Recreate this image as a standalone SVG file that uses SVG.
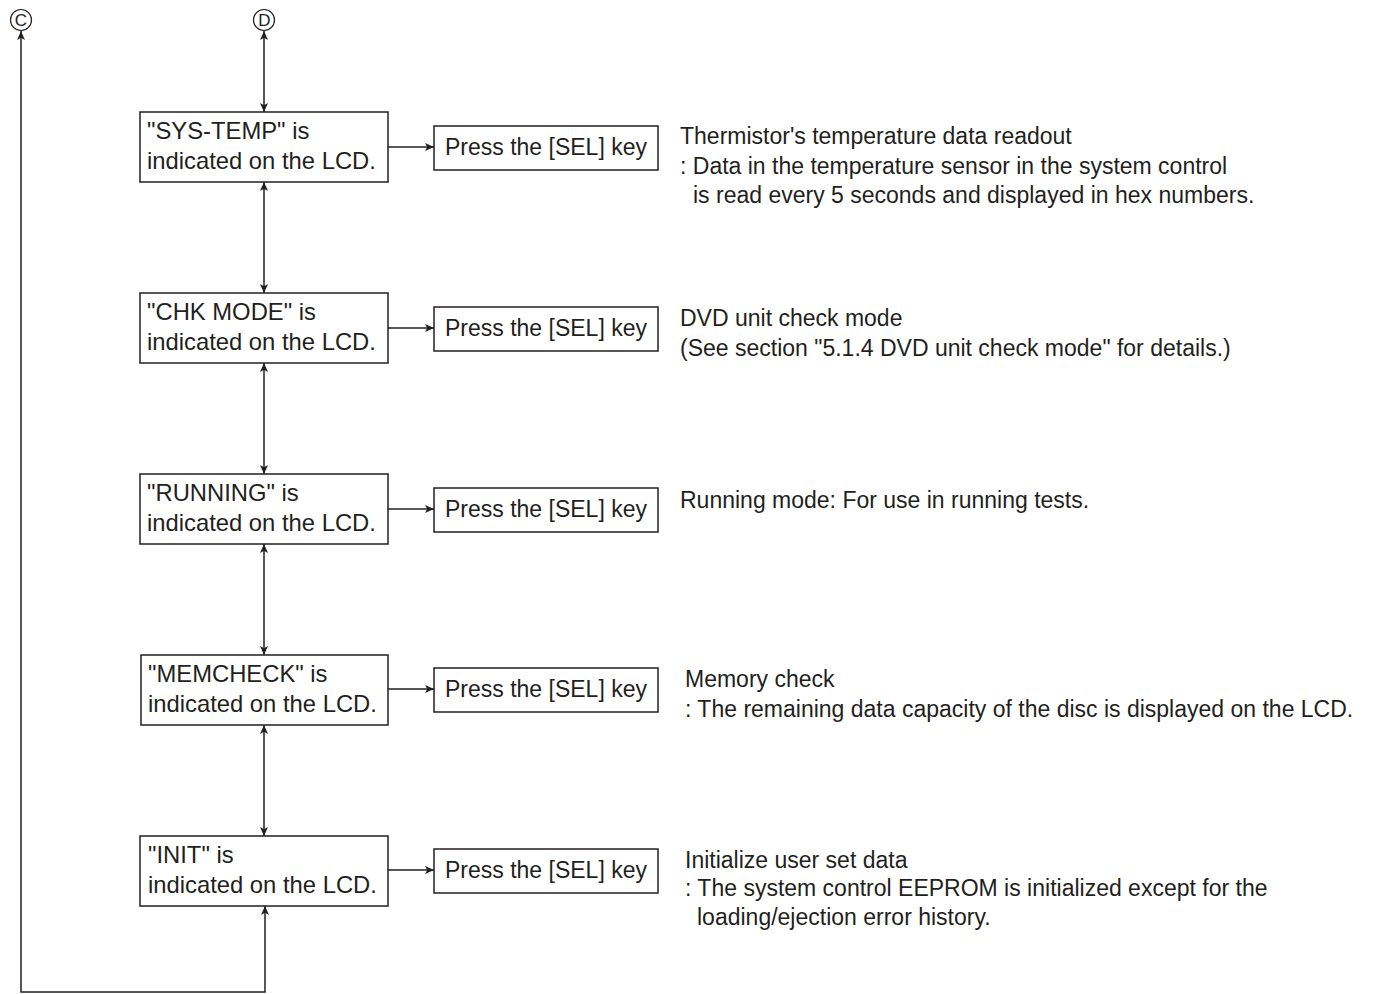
<svg xmlns="http://www.w3.org/2000/svg" width="1378" height="994" viewBox="0 0 1378 994">
<defs>
<marker id="ah" viewBox="0 0 10 10" refX="10" refY="5" markerWidth="9" markerHeight="8" markerUnits="userSpaceOnUse" orient="auto-start-reverse" preserveAspectRatio="none"><path d="M0,0 L10,5 L0,10 L2.5,5 Z" fill="#231f20"/></marker>
</defs>
<style>
.box{fill:#fff;stroke:#231f20;stroke-width:1.5}
.t{font-family:"Liberation Sans",Arial,sans-serif;font-size:23.8px;fill:#231f20}
.p{font-family:"Liberation Sans",Arial,sans-serif;font-size:23px;fill:#231f20}
.d{font-family:"Liberation Sans",Arial,sans-serif;font-size:23px;fill:#231f20}
.c{fill:none;stroke:#231f20;stroke-width:1.5}
.ci{fill:#fff;stroke:#231f20;stroke-width:1.2}
.cl{font-family:"Liberation Sans",Arial,sans-serif;font-size:17px;fill:#231f20;text-anchor:middle}
</style>
<g id="connectors">
<line class="c" x1="264" y1="31" x2="264" y2="112" marker-start="url(#ah)" marker-end="url(#ah)"/>
<line class="c" x1="264" y1="182" x2="264" y2="293" marker-start="url(#ah)" marker-end="url(#ah)"/>
<line class="c" x1="264" y1="363" x2="264" y2="474" marker-start="url(#ah)" marker-end="url(#ah)"/>
<line class="c" x1="264" y1="544" x2="264" y2="655" marker-start="url(#ah)" marker-end="url(#ah)"/>
<line class="c" x1="264" y1="725" x2="264" y2="836" marker-start="url(#ah)" marker-end="url(#ah)"/>
<polyline class="c" points="265,906 265,992 21,992 21,31" marker-start="url(#ah)" marker-end="url(#ah)"/>
<line class="c" x1="388" y1="147" x2="434" y2="147" marker-end="url(#ah)"/>
<line class="c" x1="388" y1="328" x2="434" y2="328" marker-end="url(#ah)"/>
<line class="c" x1="388" y1="509" x2="434" y2="509" marker-end="url(#ah)"/>
<line class="c" x1="388" y1="689" x2="434" y2="689" marker-end="url(#ah)"/>
<line class="c" x1="388" y1="870" x2="434" y2="870" marker-end="url(#ah)"/>
</g>
<g id="C"><circle class="ci" cx="21" cy="20" r="10.5"/><text class="cl" x="21" y="26">C</text></g>
<g id="D"><circle class="ci" cx="264" cy="20" r="10.5"/><text class="cl" x="264.5" y="26">D</text></g>
<g id="systemp">
<rect class="box" x="140" y="112" width="248" height="70"/>
<text class="t" x="147" y="139">"SYS-TEMP" is</text>
<text class="t" x="147" y="169">indicated on the LCD.</text>
</g>
<g id="sel1"><rect class="box" x="434" y="126" width="224" height="44"/><text class="p" x="445" y="155">Press the [SEL] key</text></g>
<g id="desc1">
<text class="d" x="680" y="144">Thermistor's temperature data readout</text>
<text class="d" x="680" y="174">: Data in the temperature sensor in the system control</text>
<text class="d" x="693" y="203">is read every 5 seconds and displayed in hex numbers.</text>
</g>
<g id="chkmode">
<rect class="box" x="140" y="293" width="248" height="70"/>
<text class="t" x="147" y="320">"CHK MODE" is</text>
<text class="t" x="147" y="350">indicated on the LCD.</text>
</g>
<g id="sel2"><rect class="box" x="434" y="307" width="224" height="44"/><text class="p" x="445" y="336">Press the [SEL] key</text></g>
<g id="desc2">
<text class="d" x="680" y="326">DVD unit check mode</text>
<text class="d" x="680" y="356">(See section "5.1.4 DVD unit check mode" for details.)</text>
</g>
<g id="running">
<rect class="box" x="140" y="474" width="248" height="70"/>
<text class="t" x="147" y="501">"RUNNING" is</text>
<text class="t" x="147" y="531">indicated on the LCD.</text>
</g>
<g id="sel3"><rect class="box" x="434" y="488" width="224" height="44"/><text class="p" x="445" y="517">Press the [SEL] key</text></g>
<g id="desc3">
<text class="d" x="680" y="508">Running mode: For use in running tests.</text>
</g>
<g id="memcheck">
<rect class="box" x="141" y="655" width="247" height="70"/>
<text class="t" x="148" y="682">"MEMCHECK" is</text>
<text class="t" x="148" y="712">indicated on the LCD.</text>
</g>
<g id="sel4"><rect class="box" x="434" y="668" width="224" height="44"/><text class="p" x="445" y="697">Press the [SEL] key</text></g>
<g id="desc4">
<text class="d" x="685" y="687">Memory check</text>
<text class="d" x="685" y="717">: The remaining data capacity of the disc is displayed on the LCD.</text>
</g>
<g id="init">
<rect class="box" x="140" y="836" width="248" height="70"/>
<text class="t" x="148" y="863">"INIT" is</text>
<text class="t" x="148" y="893">indicated on the LCD.</text>
</g>
<g id="sel5"><rect class="box" x="434" y="849" width="224" height="44"/><text class="p" x="445" y="878">Press the [SEL] key</text></g>
<g id="desc5">
<text class="d" x="685" y="868">Initialize user set data</text>
<text class="d" x="685" y="896">: The system control EEPROM is initialized except for the</text>
<text class="d" x="697" y="925">loading/ejection error history.</text>
</g>
</svg>
